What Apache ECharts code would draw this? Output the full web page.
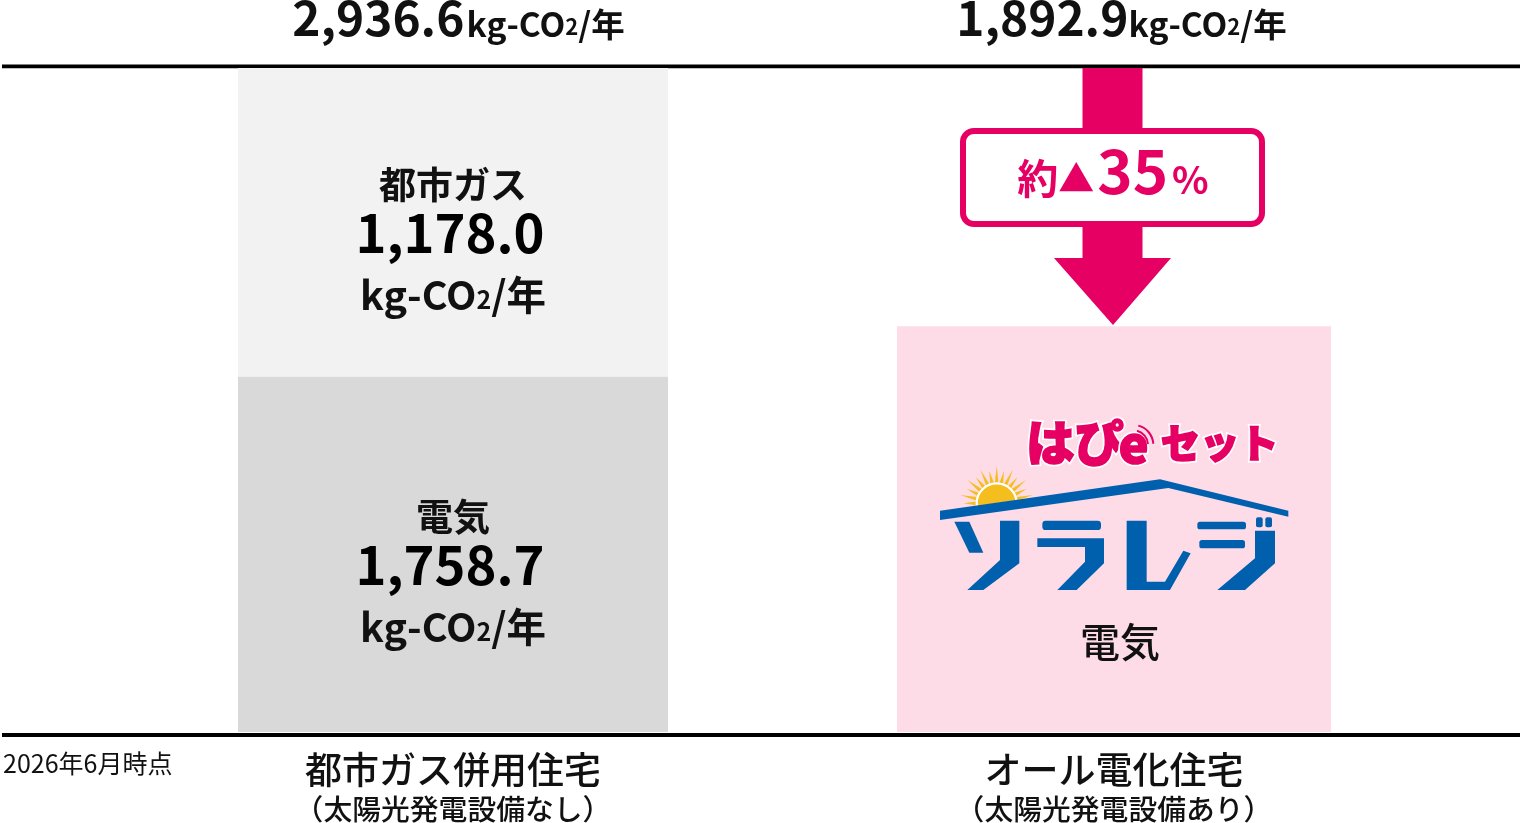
<!DOCTYPE html>
<html lang="ja">
<head>
<meta charset="utf-8">
<style>html,body{margin:0;padding:0;background:#fff;overflow:hidden}#c{width:1520px;height:823px}</style>
<script src="https://cdn.jsdelivr.net/npm/echarts@6/dist/echarts.min.js"></script>
</head>
<body>
<div id="c"></div>
<script>
const categories = ['都市ガス併用住宅', 'オール電化住宅'];
const subCategories = ['（太陽光発電設備なし）', '（太陽光発電設備あり）'];
const sourceNote = '2026年6月時点';
const unitText = 'kg-CO';
const unitTail = '/年';
const printedTotals = ['2,936.6', '1,892.9'];
const gasPrinted = '1,178.0';
const elecPrinted = '1,758.7';
const gasName = '都市ガス';
const elecName = '電気';
const reductionPercent = '35';
// The source picture's boxes are not to scale with their printed figures,
// so these are the box lengths, on a 0 to 2936.6 axis.
const axisMax = 2936.6;
const leftElecLength = [1572];
const leftGasLength = [1364.6];
const rightElecLength = [1795];

const FONT = '"Noto Sans CJK JP","Noto Sans",sans-serif';
const PINK = '#E60064', BLUE = '#0060AE';

function valueLabel(name, val) {
  return '{name|' + name + '}\n{value|' + val + '}\n{unit|' + unitText + '}{sub|2}{unit|' + unitTail + '}';
}
const valueRich = {
  name: {fontFamily: FONT, fontWeight: 700, fontSize: 37, lineHeight: 40, color: '#111'},
  value: {fontFamily: FONT, fontWeight: 700, fontSize: 52.5, lineHeight: 56, color: '#000', padding: [0, 6, 0, 0]},
  unit: {fontFamily: FONT, fontWeight: 700, fontSize: 39.5, lineHeight: 68, color: '#111'},
  sub: {fontFamily: FONT, fontWeight: 700, fontSize: 25, lineHeight: 68, color: '#111', padding: [8, 0, 0, 0]}
};
function axisFor(i, grid) {
  return {
    type: 'category', gridIndex: grid, data: [categories[i]],
    axisLine: {show: false}, axisTick: {show: false},
    axisLabel: {
      margin: 19, interval: 0,
      formatter: function (v) { return '{a|' + v + '}\n{b|' + subCategories[i] + '}'; },
      rich: {
        a: {fontFamily: FONT, fontWeight: 500, fontSize: 37, lineHeight: 38, color: '#111'},
        b: {fontFamily: FONT, fontWeight: 500, fontSize: 28.8, lineHeight: 39, color: '#111'}
      }
    }
  };
}
const yAx = g => ({type: 'value', gridIndex: g, min: 0, max: axisMax, show: false});

// Logo shapes in a 3x local space (origin 920,400), mapped to page pixels
const LX = v => 920 + v / 3, LY = v => 400 + v / 3;
const Z = {z: 20, zlevel: 1};
const poly = (pts, fill) => ({type: 'polygon', ...Z, shape: {points: pts.map(p => [LX(p[0]), LY(p[1])])}, style: {fill: fill || BLUE}});
const rrect = (x, y, w, h, r, fill) => ({type: 'rect', ...Z, shape: {x: LX(x), y: LY(y), width: w / 3, height: h / 3, r: r / 3}, style: {fill: fill || BLUE}});
const rays = [];
for (let k = 0; k <= 14; k++) {
  const a = Math.PI * (1.0 + k / 14), c = 230, d = 310, R = k % 2 ? 112 : 100;
  rays.push(poly([
    [c + 62 * Math.cos(a - 0.09), d + 62 * Math.sin(a - 0.09)],
    [c + R * Math.cos(a), d + R * Math.sin(a)],
    [c + 62 * Math.cos(a + 0.09), d + 62 * Math.sin(a + 0.09)]
  ], '#F5BE1F'));
}
const wave = (r) => ({type: 'arc', ...Z, shape: {cx: LX(640), cy: LY(135), r: r / 3, startAngle: -Math.PI * 0.42, endAngle: -Math.PI * 0.02},
  style: {stroke: PINK, lineWidth: 2, fill: 'none'}});
// White halo underneath, then a thin pink outline to reach the logo's heavy weight
const pinkText = (x, y, text, size) => [
  {type: 'text', ...Z, x: LX(x), y: LY(y), style: {text, fill: '#fff', stroke: '#fff', lineWidth: 5,
    font: '900 ' + (size / 3) + 'px ' + FONT, textAlign: 'left', textVerticalAlign: 'middle'}},
  {type: 'text', ...Z, x: LX(x), y: LY(y), style: {text, fill: PINK, stroke: PINK, lineWidth: 1.6,
    font: '900 ' + (size / 3) + 'px ' + FONT, textAlign: 'left', textVerticalAlign: 'middle'}}
];
const logo = [
  ...rays,
  {type: 'circle', ...Z, shape: {cx: LX(230), cy: LY(310), r: 20}, style: {fill: '#F5BE1F', stroke: '#fff', lineWidth: 2.3}},
  poly([[90, 330], [345, 292], [345, 385], [90, 385]], '#FDDCE8'),
  poly([[60, 332], [720, 238], [1105, 332], [1105, 350], [745, 264], [60, 360]]),
  poly([[103, 365], [148, 365], [190, 458], [148, 458]]),
  poly([[240, 362], [298, 362], [298, 490], [190, 570], [142, 570], [240, 480]]),
  rrect(367, 362, 176, 28, 10),
  poly([[352, 415], [552, 415], [552, 490], [470, 570], [412, 570], [495, 485], [495, 441], [352, 441]]),
  poly([[620, 362], [680, 362], [680, 545], [735, 545], [790, 452], [812, 460], [750, 570], [620, 570]]),
  rrect(832, 365, 146, 23, 8),
  rrect(838, 420, 137, 25, 8),
  rrect(1008, 352, 20, 30, 6),
  rrect(1036, 352, 20, 30, 6),
  poly([[1005, 392], [1065, 392], [1065, 490], [975, 570], [892, 570], [1005, 475]]),
  ...pinkText(318, 128, 'はぴ', 146),
  ...pinkText(596, 132, 'e', 150),
  wave(44), wave(60),
  ...pinkText(722, 130, 'セット', 118)
];

const option = {
  animation: false,
  backgroundColor: '#fff',
  grid: [
    {left: 238, width: 430, top: 68, height: 665},
    {left: 897, width: 434, top: 68, height: 665}
  ],
  xAxis: [axisFor(0, 0), axisFor(1, 1)],
  yAxis: [yAx(0), yAx(1)],
  series: [
    {name: '電気', type: 'bar', stack: 'L', xAxisIndex: 0, yAxisIndex: 0, barWidth: '100%', data: leftElecLength,
      itemStyle: {color: '#D9D9D9'},
      label: {show: true, position: 'inside', offset: [0, 25], formatter: () => valueLabel(elecName, elecPrinted), rich: valueRich}},
    {name: '都市ガス', type: 'bar', stack: 'L', xAxisIndex: 0, yAxisIndex: 0, barWidth: '100%', data: leftGasLength,
      itemStyle: {color: '#F2F2F2'},
      label: {show: true, position: 'inside', offset: [0, 25], formatter: () => valueLabel(gasName, gasPrinted), rich: valueRich}},
    {name: '電気', type: 'bar', xAxisIndex: 1, yAxisIndex: 1, barWidth: '100%', data: rightElecLength,
      itemStyle: {color: '#FDDCE8'},
      label: {show: true, position: 'inside', offset: [6, 113], formatter: elecName,
        fontFamily: FONT, fontWeight: 500, fontSize: 40, color: '#111'}}
  ],
  graphic: {elements: [
    {type: 'rect', shape: {x: 2, y: 64.5, width: 1518, height: 3.8}, style: {fill: '#000'}},
    {type: 'rect', shape: {x: 2, y: 733, width: 1518, height: 4}, style: {fill: '#000'}},
    {type: 'text', x: 3, y: 763, style: {text: sourceNote, font: '400 25px ' + FONT, fill: '#111', textVerticalAlign: 'middle'}},
    ...printedTotals.map((t, i) => ({type: 'text', x: [458.5, 1121.5][i], y: 21,
      style: {
        text: '{t|' + t + '}{g| }{u|' + unitText + '}{s|2}{u|' + unitTail + '}',
        textAlign: 'center', textVerticalAlign: 'middle',
        rich: {
          t: {fontFamily: FONT, fontWeight: 700, fontSize: 47.8, fill: '#111', lineHeight: 50, padding: [0, 0, 6, 0]},
          g: {fontSize: i ? 1 : 8, fill: '#111', lineHeight: 50},
          u: {fontFamily: FONT, fontWeight: 700, fontSize: 33.5, fill: '#111', lineHeight: 50, padding: [6, 0, 0, 0]},
          s: {fontFamily: FONT, fontWeight: 700, fontSize: 22, fill: '#111', lineHeight: 50, padding: [12, 0, 0, 0]}
        }
      }})),
    {type: 'polygon', shape: {points: [[1082.5, 68], [1142.5, 68], [1142.5, 258], [1171, 258], [1113, 325], [1054, 258], [1082.5, 258]]}, style: {fill: PINK}},
    {type: 'rect', shape: {x: 963, y: 131, width: 299, height: 93, r: 11}, style: {fill: '#fff', stroke: PINK, lineWidth: 6}},
    {type: 'text', x: 1113, y: 176, style: {
      text: '{a|約}{b|▲}{c|' + reductionPercent + '}{d|%}',
      textAlign: 'center', textVerticalAlign: 'middle',
      rich: {
        a: {fontFamily: FONT, fontWeight: 700, fontSize: 41, fill: PINK, padding: [4, 0, 0, 0]},
        b: {fontFamily: FONT, fontWeight: 700, fontSize: 36, fill: PINK, padding: [4, 0, 0, 0]},
        c: {fontFamily: FONT, fontWeight: 700, fontSize: 60, fill: PINK, padding: [0, 0, 10, 3]},
        d: {fontFamily: FONT, fontWeight: 700, fontSize: 38, fill: PINK, padding: [8, 0, 0, 4]}
      }
    }},
    ...logo
  ]}
};
echarts.init(document.getElementById('c')).setOption(option);
</script>
</body>
</html>
